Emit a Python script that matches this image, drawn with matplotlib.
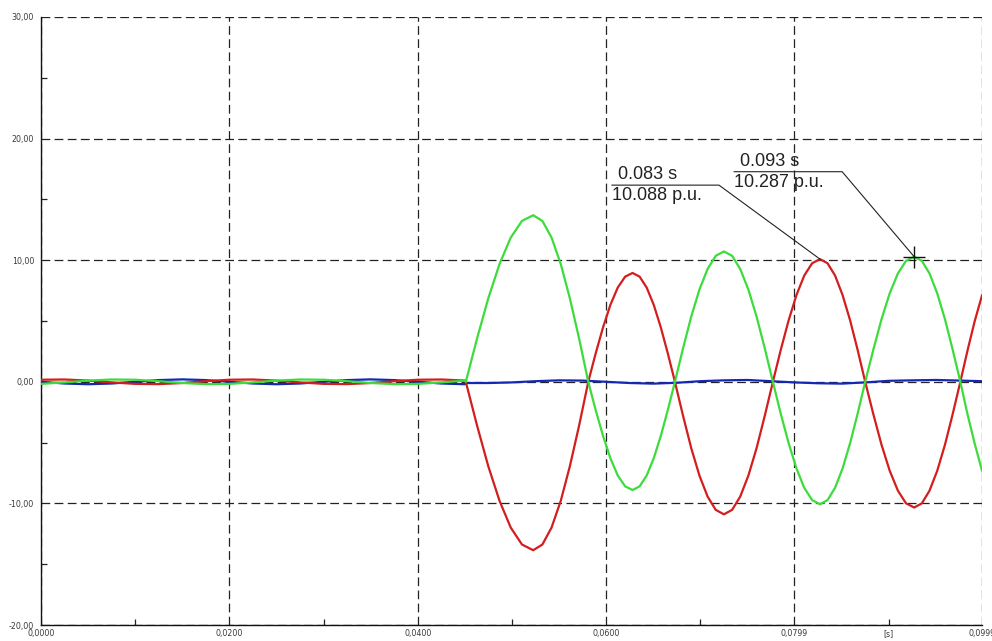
import matplotlib.pyplot as plt
from matplotlib.ticker import FixedLocator

# time axis [s] and phase values [p.u.]
pre_t = [0.0, 0.0025, 0.005, 0.0075, 0.01, 0.0125, 0.015, 0.0175, 0.02, 0.0225,
         0.025, 0.0275, 0.03, 0.0325, 0.035, 0.0375, 0.04, 0.0425, 0.045]
pre_red = [0.17, 0.19, 0.10, -0.05, -0.17, -0.19, -0.10, 0.05, 0.17, 0.19,
           0.10, -0.05, -0.17, -0.19, -0.10, 0.05, 0.17, 0.19, 0.10]
pre_green = [-0.17, -0.05, 0.10, 0.19, 0.17, 0.05, -0.10, -0.19, -0.17, -0.05,
             0.10, 0.19, 0.17, 0.05, -0.10, -0.19, -0.17, -0.05, 0.10]
pre_blue = [0.0, -0.14, -0.2, -0.14, 0.0, 0.14, 0.2, 0.14, 0.0, -0.14,
            -0.2, -0.14, 0.0, 0.14, 0.2, 0.14, 0.0, -0.14, -0.2]

fault_t = [0.0451, 0.04629, 0.04748, 0.04868, 0.04987, 0.05106, 0.05225, 0.05323, 0.0542, 0.05518, 0.05615, 0.05713, 0.0581,
           0.05888, 0.05967, 0.06045, 0.06123, 0.06202, 0.0628, 0.06355, 0.0643, 0.06505, 0.0658, 0.06655, 0.0673,
           0.06817, 0.06903, 0.0699, 0.07077, 0.07163, 0.0725, 0.07337, 0.07423, 0.0751, 0.07597, 0.07683, 0.0777,
           0.07853, 0.07937, 0.0802, 0.08103, 0.08187, 0.0827, 0.0835, 0.0843, 0.0851, 0.0859, 0.0867, 0.0875,
           0.08837, 0.08923, 0.0901, 0.09097, 0.09183, 0.0927, 0.09352, 0.09433, 0.09515, 0.09597, 0.09678, 0.0976,
           0.09837, 0.09913, 0.0999]
fault_green = [0.0, 3.55, 6.85, 9.69, 11.86, 13.23, 13.7, 13.23, 11.86, 9.69, 6.85, 3.55, 0.0,
               -2.31, -4.45, -6.29, -7.71, -8.6, -8.9, -8.6, -7.71, -6.29, -4.45, -2.31, 0.0,
               2.78, 5.36, 7.58, 9.28, 10.36, 10.72, 10.36, 9.28, 7.58, 5.36, 2.78, 0.0,
               -2.61, -5.04, -7.12, -8.72, -9.73, -10.07, -9.73, -8.72, -7.12, -5.04, -2.61, 0.0,
               2.66, 5.14, 7.27, 8.91, 9.94, 10.287, 9.94, 8.91, 7.27, 5.14, 2.66, 0.0,
               -2.7, -5.1, -7.3]
fault_red = [0.0, -3.59, -6.93, -9.79, -11.99, -13.38, -13.85, -13.38, -11.99, -9.79, -6.93, -3.59, 0.0,
             2.32, 4.48, 6.33, 7.75, 8.65, 8.95, 8.65, 7.75, 6.33, 4.48, 2.32, 0.0,
             -2.82, -5.45, -7.71, -9.44, -10.53, -10.9, -10.53, -9.44, -7.71, -5.45, -2.82, 0.0,
             2.61, 5.05, 7.13, 8.74, 9.75, 10.088, 9.75, 8.74, 7.13, 5.05, 2.61, 0.0,
             -2.68, -5.17, -7.31, -8.95, -9.99, -10.34, -9.99, -8.95, -7.31, -5.17, -2.68, 0.0,
             2.6, 5.0, 7.1]
blue_t = [0.0451, 0.0475, 0.05, 0.0525, 0.055, 0.0575, 0.06, 0.0625, 0.065, 0.0675, 0.07, 0.0725,
          0.075, 0.0775, 0.08, 0.0825, 0.085, 0.0875, 0.09, 0.0925, 0.095, 0.0975, 0.0999]
fault_blue = [-0.1, -0.1, -0.05, 0.05, 0.12, 0.1, 0.0, -0.1, -0.15, -0.08, 0.05, 0.12,
              0.15, 0.05, -0.05, -0.12, -0.15, -0.05, 0.08, 0.12, 0.15, 0.1, 0.05]

x_ticks = [0.0, 0.02, 0.04, 0.06, 0.0799, 0.0999]
x_labels = ['0,0000', '0,0200', '0,0400', '0,0600', '0,0799', '0,0999']
y_ticks = [-20, -10, 0, 10, 20, 30]
y_labels = ['-20,00', '-10,00', '0,00', '10,00', '20,00', '30,00']

t_red = pre_t + fault_t
t_blue = pre_t + blue_t
red = pre_red + fault_red
green = pre_green + fault_green
blue = pre_blue + fault_blue

fig = plt.figure(figsize=(9.92, 6.41), dpi=100)
ax = fig.add_axes([0.04133, 0.02496, 0.94859, 0.94852])

ax.plot(t_blue, blue, color='#1428b4', lw=1.6, zorder=3)
ax.plot(t_red, red, color='#d21e1e', lw=1.6, zorder=4)
ax.plot(t_red, green, color='#3cdc3c', lw=1.6, zorder=5)

ax.set_xlim(0, 0.0999)
ax.set_ylim(-20, 30)
ax.set_xticks(x_ticks)
ax.set_xticklabels(x_labels)
ax.set_yticks(y_ticks)
ax.set_yticklabels(y_labels)
ax.xaxis.set_minor_locator(FixedLocator([0.01, 0.03, 0.05, 0.07, 0.09]))
ax.yaxis.set_minor_locator(FixedLocator([-15, -5, 5, 15, 25]))
ax.tick_params(which='major', length=0, labelsize=5.7, labelcolor='#3a3a3a')
ax.tick_params(axis='y', which='major', pad=5)
ax.tick_params(axis='x', which='major', pad=3)
ax.tick_params(which='minor', direction='in', length=4, width=0.9, color='#222222')

ax.grid(True, which='major', color='#222222', linestyle=(0, (7, 3.5)), linewidth=0.9)
ax.set_axisbelow(True)
for side in ['top', 'right']:
    ax.spines[side].set_visible(False)
for side in ['left', 'bottom']:
    ax.spines[side].set_linewidth(1.0)
    ax.spines[side].set_color('#111111')

ax.text(0.09, -0.006, '[s]', transform=ax.get_xaxis_transform(), ha='center', va='top',
        fontsize=5.7, color='#3a3a3a')

# cursor annotations (offsets in pixels from the marked sample)
fig.canvas.draw()
to_data = ax.transData.inverted()


def cursor(t, v, dx_elbow, dy, dx_left, top_text, bottom_text):
    px, py = ax.transData.transform((t, v))
    pts = [(px, py), (px + dx_elbow, py + dy), (px + dx_left, py + dy)]
    dpts = to_data.transform(pts)
    ax.plot(dpts[:, 0], dpts[:, 1], color='#222222', lw=0.8, zorder=6)
    lx, ly = dpts[2]
    ax.annotate(top_text, (lx, ly), xytext=(6, 2), textcoords='offset pixels',
                ha='left', va='bottom', fontsize=13, family='Liberation Sans', color='#222222')
    ax.annotate(bottom_text, (lx, ly), xytext=(0, -2), textcoords='offset pixels',
                ha='left', va='top', fontsize=13, family='Liberation Sans', color='#222222')


i_red = fault_red.index(10.088)
i_green = fault_green.index(10.287)
cursor(fault_t[i_red], fault_red[i_red], -101, 74, -208, '0.083 s', '10.088 p.u.')
cursor(fault_t[i_green], fault_green[i_green], -72, 85, -180, '0.093 s', '10.287 p.u.')
ax.plot(fault_t[i_green], fault_green[i_green], marker='+', markersize=16, mew=1.0,
        color='#111111', zorder=7)

fig.savefig('out.png', dpi=100)
